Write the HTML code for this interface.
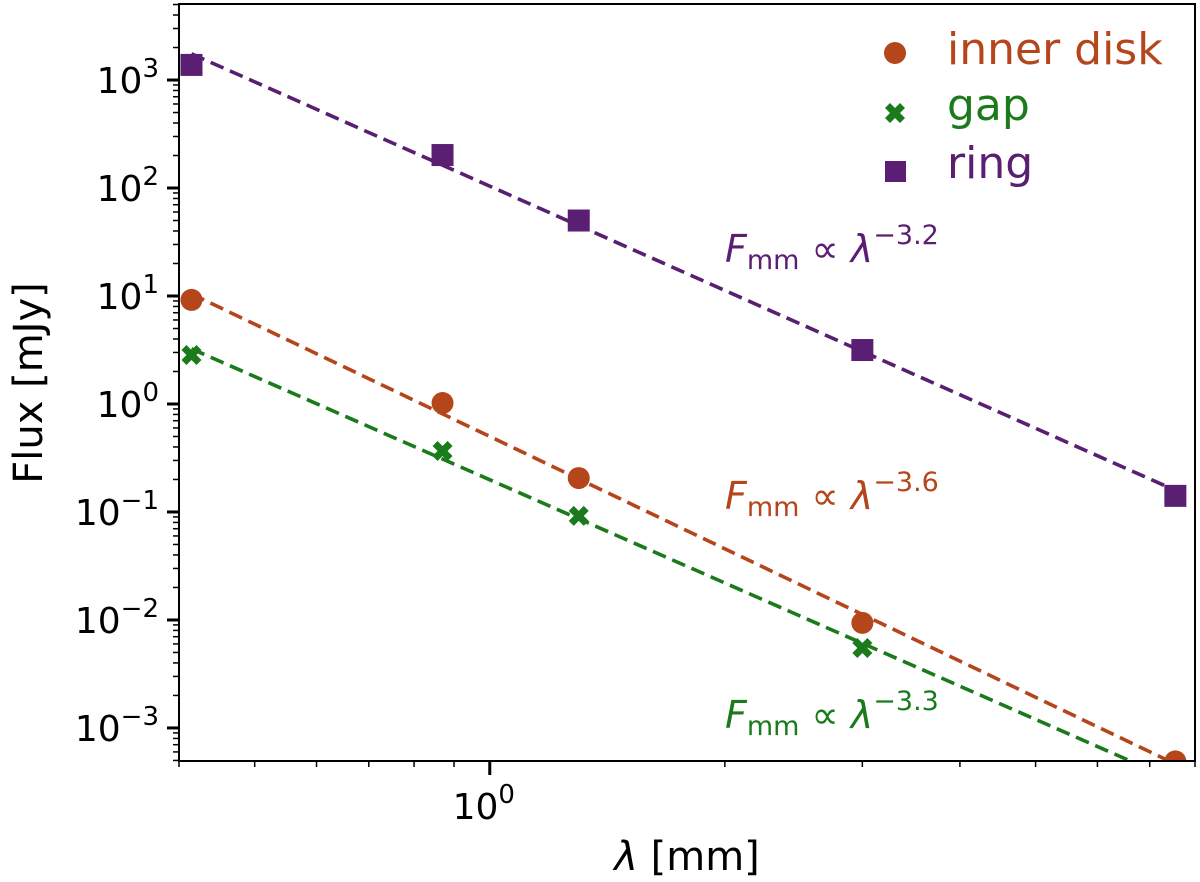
<!DOCTYPE html>
<html><head><meta charset="utf-8"><style>
body{margin:0;background:#fff}
svg{display:block;font-family:"DejaVu Sans","Liberation Sans",sans-serif}
</style></head><body>
<svg id="chart" width="1200" height="882" viewBox="0 0 1200 882">
<defs><clipPath id="clip"><rect x="179" y="4" width="1016" height="757"/></clipPath></defs>
<g id="plot" clip-path="url(#clip)"></g>
<g id="axes"></g>
</svg>
<script>
const wavelengths = [0.415, 0.87, 1.3, 3.0, 7.55];
const innerFlux = [9.2, 1.02, 0.206, 0.0094, 0.00049];
const gapFlux = [2.84, 0.367, 0.092, 0.0055];
const ringFlux = [1380, 202, 50, 3.16, 0.141];
const yTickExps = [-3, -2, -1, 0, 1, 2, 3];
const xMinorTicks = [0.4,0.5,0.6,0.7,0.8,0.9,2,3,4,5,6,7,8];

const L=179,R=1195,T=4,B=761;
const xMin=Math.log10(0.4), xMax=Math.log10(8);
const yMin=-3.306, yMax=3.704;
const xs=v=>L+(Math.log10(v)-xMin)/(xMax-xMin)*(R-L);
const ys=v=>B-(Math.log10(v)-yMin)/(yMax-yMin)*(B-T);
const NS='http://www.w3.org/2000/svg';
const plot=document.getElementById('plot'), axes=document.getElementById('axes');
function mk(tag,attrs,parent){const e=document.createElementNS(NS,tag);for(const k in attrs)e.setAttribute(k,attrs[k]);parent.appendChild(e);return e;}

const C={inner:'#b5451b',gap:'#1b7a1b',ring:'#5a1e72'};
function fitLine(xv,yv,color,name){
  const lx=xv.map(Math.log10), ly=yv.map(Math.log10), n=lx.length;
  const mx=lx.reduce((a,b)=>a+b)/n, my=ly.reduce((a,b)=>a+b)/n;
  let sxy=0,sxx=0;for(let i=0;i<n;i++){sxy+=(lx[i]-mx)*(ly[i]-my);sxx+=(lx[i]-mx)**2;}
  const p=sxy/sxx, a=my-p*mx;
  const x0=wavelengths[0], x1=wavelengths[wavelengths.length-1];
  const l=mk('line',{x1:xs(x0),y1:ys(Math.pow(10,a+p*Math.log10(x0))),x2:xs(x1),y2:ys(Math.pow(10,a+p*Math.log10(x1))),stroke:color,'stroke-width':3.6,'stroke-dasharray':'14,7'},plot);
  
  
}
fitLine(wavelengths.slice(0,innerFlux.length),innerFlux,C.inner,'inner-disk-fit-line');
fitLine(wavelengths.slice(0,gapFlux.length),gapFlux,C.gap,'gap-fit-line');
fitLine(wavelengths.slice(0,ringFlux.length),ringFlux,C.ring,'ring-fit-line');

function marker(type,x,y,color,parent){
  let e;
  if(type==='circle') e=mk('circle',{cx:x,cy:y,r:11,fill:color},parent);
  else if(type==='square') e=mk('rect',{x:x-11,y:y-11,width:22,height:22,fill:color},parent);
  else e=mk('path',{d:`M${x-10} ${y-5}L${x-5} ${y-10}L${x} ${y-5}L${x+5} ${y-10}L${x+10} ${y-5}L${x+5} ${y}L${x+10} ${y+5}L${x+5} ${y+10}L${x} ${y+5}L${x-5} ${y+10}L${x-10} ${y+5}L${x-5} ${y}Z`,fill:color},parent);
  return e;
}
innerFlux.forEach((v,i)=>{const m=marker('circle',xs(wavelengths[i]),ys(v),C.inner,plot);
  
  });
gapFlux.forEach((v,i)=>{const m=marker('x',xs(wavelengths[i]),ys(v),C.gap,plot);
  
  });
ringFlux.forEach((v,i)=>{const m=marker('square',xs(wavelengths[i]),ys(v),C.ring,plot);
  
  });

const fr=mk('rect',{x:L,y:T,width:R-L,height:B-T,fill:'none',stroke:'#000','stroke-width':2},axes);


yTickExps.forEach(e=>{
  const y=ys(Math.pow(10,e));
  mk('line',{x1:L-12,y1:y,x2:L,y2:y,stroke:'#000','stroke-width':3},axes);
  const t=mk('text',{x:L-20,y:y+13,'text-anchor':'end','font-size':36},axes);
  
  
  t.innerHTML=`10<tspan dy="-16" font-size="26">${e<0?'\u2212'+(-e):e}</tspan>`;
});
for(let e=-4;e<4;e++)for(let k=2;k<10;k++){const v=k*Math.pow(10,e);const lv=Math.log10(v);if(lv<yMin||lv>yMax)continue;
  const y=ys(v);mk('line',{x1:L-6,y1:y,x2:L,y2:y,stroke:'#000','stroke-width':1.5},axes);}
mk('line',{x1:xs(1),y1:B,x2:xs(1),y2:B+14,stroke:'#000','stroke-width':3},axes);
const xl=mk('text',{x:xs(1)-6,y:B+58,'text-anchor':'middle','font-size':36},axes);


xl.innerHTML='10<tspan dy="-16" font-size="26">0</tspan>';
xMinorTicks.forEach(v=>{const x=xs(v);mk('line',{x1:x,y1:B,x2:x,y2:B+6,stroke:'#000','stroke-width':1.5},axes);});
</script>
<svg style="position:absolute;left:0;top:0" width="1200" height="882">
<text x="687" y="870" text-anchor="middle" font-size="40" font-family="DejaVu Sans,sans-serif"><tspan font-style="italic">λ</tspan> [mm]</text>
<text transform="translate(42,383) rotate(-90)" text-anchor="middle" font-size="40" font-family="DejaVu Sans,sans-serif">Flux [mJy]</text>
<g font-family="DejaVu Sans,sans-serif" font-size="44">
<circle cx="895" cy="53" r="11" fill="#b5451b"/>
<text x="947" y="64" fill="#b5451b">inner disk</text>
<path d="M885 108L890 103L895 108L900 103L905 108L900 113L905 118L900 123L895 118L890 123L885 118L890 113Z" fill="#1b7a1b"/>
<text x="947" y="120" fill="#1b7a1b">gap</text>
<rect x="885" y="161" width="21" height="21" fill="#5a1e72"/>
<text x="947" y="178" fill="#5a1e72">ring</text>
</g>
<g font-family="DejaVu Sans,sans-serif" font-size="38">
<text x="725" y="262" fill="#5a1e72"><tspan font-style="italic">F</tspan><tspan font-size="27" dy="7">mm</tspan><tspan dy="-7"> ∝ </tspan><tspan font-style="italic">λ</tspan><tspan font-size="27" dy="-18">−3.2</tspan></text>
<text x="725" y="509" fill="#b5451b"><tspan font-style="italic">F</tspan><tspan font-size="27" dy="7">mm</tspan><tspan dy="-7"> ∝ </tspan><tspan font-style="italic">λ</tspan><tspan font-size="27" dy="-18">−3.6</tspan></text>
<text x="725" y="728" fill="#1b7a1b"><tspan font-style="italic">F</tspan><tspan font-size="27" dy="7">mm</tspan><tspan dy="-7"> ∝ </tspan><tspan font-style="italic">λ</tspan><tspan font-size="27" dy="-18">−3.3</tspan></text>
</g>
</svg>
</body></html>
